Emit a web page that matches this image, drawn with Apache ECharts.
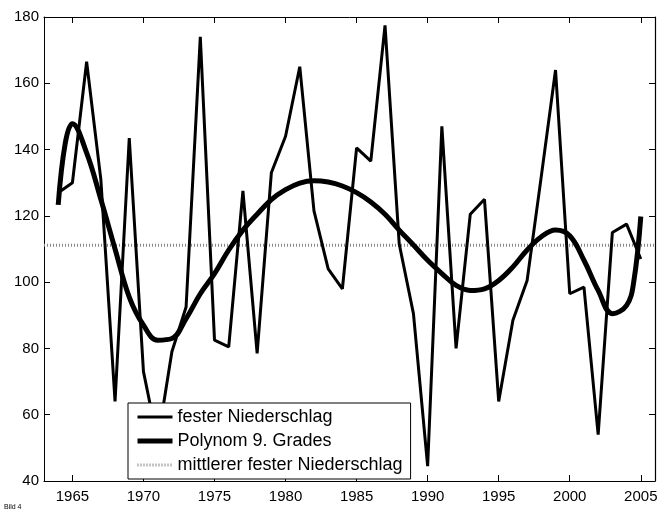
<!DOCTYPE html>
<html>
<head>
<meta charset="utf-8">
<script src="https://cdn.jsdelivr.net/npm/echarts@6/dist/echarts.min.js"></script>
<style>
  html, body { margin: 0; padding: 0; background: #fff; }
  #chart { width: 671px; height: 515px; }
</style>
</head>
<body>
<div id="chart"></div>
<script>
// Jahre und fester Niederschlag
var years = [1964, 1965, 1966, 1967, 1968, 1969, 1970, 1971, 1972, 1973,
             1974, 1975, 1976, 1977, 1978, 1979, 1980, 1981, 1982, 1983,
             1984, 1985, 1986, 1987, 1988, 1989, 1990, 1991, 1992, 1993,
             1994, 1995, 1996, 1997, 1998, 1999, 2000, 2001, 2002, 2003,
             2004, 2005];
var niederschlag = [127, 130, 166.5, 131, 64, 143.5, 73, 52, 79, 92.5,
                    174, 82.5, 80.5, 127.5, 78.5, 133, 144, 165, 121.5, 104,
                    98, 140.5, 136.5, 177.5, 111.5, 90.5, 44.5, 147, 80, 120.5,
                    125, 64, 88.5, 100.5, 132, 164, 96.5, 98.5, 54, 115,
                    117.5, 107];
// Polynom 9. Grades (an den Enden halbjaehrlich, da steil)
var polyYears = [1964, 1964.5, 1965, 1966, 1967, 1968, 1969, 1970, 1971, 1972, 1973,
                 1974, 1975, 1976, 1977, 1978, 1979, 1980, 1981, 1982, 1983,
                 1984, 1985, 1986, 1987, 1988, 1989, 1990, 1991, 1992, 1993,
                 1994, 1995, 1996, 1997, 1998, 1999, 2000, 2001, 2002, 2003,
                 2004, 2004.5, 2005];
var polynom = [123.3, 142, 147.8, 139, 125, 110, 95.5, 87, 82.5, 83, 89,
               96.5, 102.6, 109.7, 115.7, 120.5, 124.9, 127.9, 129.9, 130.6, 130.2,
               129, 127, 124.2, 120.5, 115.7, 111.2, 106.6, 102.6, 99, 97.5,
               98, 100.5, 104.6, 109.7, 113.7, 115.7, 114, 106.6, 97.5, 90.5,
               93, 100, 119.8];
var mittelwert = 111.1;
var xRange = [1963, 2006];
var xTicks = [1965, 1970, 1975, 1980, 1985, 1990, 1995, 2000, 2005];
var yRange = [40, 180];

var chart = echarts.init(document.getElementById('chart'));

function pairs(xs, ys) {
    var out = [];
    for (var i = 0; i < xs.length; i++) {
        out.push([xs[i], ys[i]]);
    }
    return out;
}

var font = 'Liberation Sans, Arial, Helvetica, sans-serif';

var option = {
    animation: false,
    backgroundColor: '#fff',
    textStyle: { fontFamily: font },
    grid: { left: 44, right: 16, top: 17, bottom: 34 },
    xAxis: [
        {
            type: 'value', min: xRange[0], max: xRange[1],
            splitLine: { show: false },
            axisLine: { show: true, onZero: false, lineStyle: { color: '#000', width: 1.2 } },
            axisTick: { inside: true, length: 6, customValues: xTicks, lineStyle: { color: '#000' } },
            axisLabel: {
                customValues: xTicks, color: '#000', fontSize: 15, margin: 8, fontFamily: font,
                formatter: function (v) { return String(v); }
            }
        },
        {
            type: 'value', position: 'top', min: xRange[0], max: xRange[1],
            splitLine: { show: false },
            axisLine: { show: true, onZero: false, lineStyle: { color: '#000', width: 1 } },
            axisTick: { inside: true, length: 6, customValues: xTicks, lineStyle: { color: '#000' } },
            axisLabel: { show: false }
        }
    ],
    yAxis: [
        {
            type: 'value', min: yRange[0], max: yRange[1], interval: 20,
            splitLine: { show: false },
            axisLine: { show: true, onZero: false, lineStyle: { color: '#000', width: 1 } },
            axisTick: { inside: true, length: 6, lineStyle: { color: '#000' } },
            axisLabel: { color: '#000', fontSize: 15, margin: 5, fontFamily: font }
        },
        {
            type: 'value', position: 'right', min: yRange[0], max: yRange[1], interval: 20,
            splitLine: { show: false },
            axisLine: { show: true, onZero: false, lineStyle: { color: '#000', width: 1.2 } },
            axisTick: { inside: true, length: 6, lineStyle: { color: '#000' } },
            axisLabel: { show: false }
        }
    ],
    legend: {
        orient: 'vertical',
        left: 128, top: 403,
        padding: [5, 8, 5, 7],
        itemWidth: 35, itemHeight: 18, itemGap: 6,
        backgroundColor: '#fff',
        borderColor: '#000', borderWidth: 1,
        textStyle: { color: '#000', fontSize: 18, fontFamily: font },
        itemStyle: { opacity: 0 },
        lineStyle: { width: 'inherit' },
        data: ['fester Niederschlag', 'Polynom 9. Grades', 'mittlerer fester Niederschlag']
    },
    graphic: [
        { type: 'text', left: 4, top: 504, style: { text: 'Bild 4', fontSize: 7, fill: '#000', fontFamily: font } }
    ],
    series: [
        {
            name: 'fester Niederschlag',
            type: 'line',
            data: pairs(years, niederschlag),
            symbol: 'none',
            lineStyle: { color: '#000', width: 3 },
            itemStyle: { color: '#000' },
            z: 3
        },
        {
            name: 'Polynom 9. Grades',
            type: 'line',
            data: pairs(polyYears, polynom),
            smooth: 0.4,
            symbol: 'none',
            lineStyle: { color: '#000', width: 5 },
            itemStyle: { color: '#000' },
            z: 4
        },
        {
            name: 'mittlerer fester Niederschlag',
            type: 'line',
            data: pairs(xRange, [mittelwert, mittelwert]),
            symbol: 'none',
            lineStyle: { color: '#888', width: 3, type: [1, 2] },
            itemStyle: { color: '#888' },
            z: 2
        }
    ]
};

chart.setOption(option);
</script>
</body>
</html>
